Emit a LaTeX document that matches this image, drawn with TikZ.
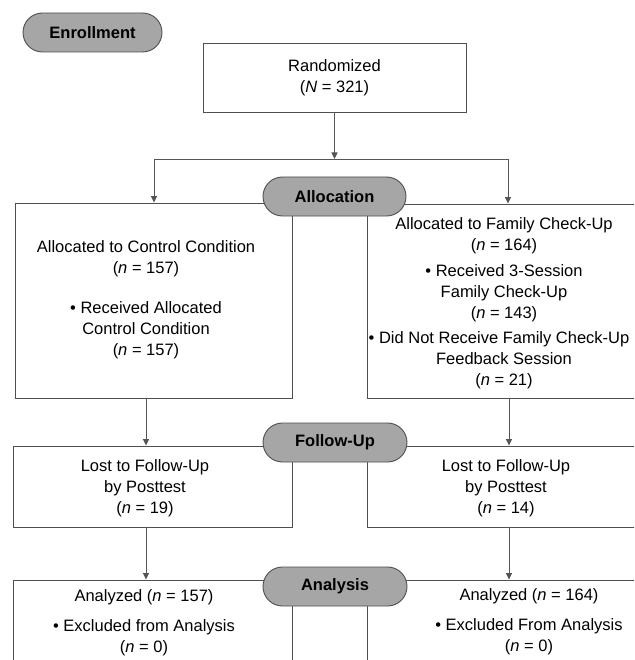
\documentclass[tikz,border=0pt]{standalone}
\usepackage{fontspec}
\setmainfont{Liberation Sans}
\usetikzlibrary{arrows.meta}
\definecolor{boxgray}{HTML}{4F4F4F}
\definecolor{pillgray}{HTML}{A6A6A6}
\definecolor{linegray}{HTML}{555555}
\begin{document}
\begin{tikzpicture}[x=1pt,y=-1pt,
  box/.style={draw=boxgray, line width=0.9pt, fill=white, rectangle, inner sep=0pt},
  pill/.style={draw=boxgray, line width=0.9pt, fill=pillgray, rounded corners=19.5pt, minimum width=143pt, minimum height=39pt, inner sep=0pt, font=\fontsize{16.5}{20}\selectfont\bfseries},
  txt/.style={align=center, inner sep=0pt, font=\fontsize{16.5}{21}\selectfont},
  conn/.style={draw=linegray, line width=0.9pt},
  arr/.style={conn, -{Triangle[width=6pt,length=6.5pt]}}]
\useasboundingbox (0,0) rectangle (634,660);
\clip (0,0) rectangle (634,660);
\fill[white] (0,0) rectangle (634,660);
% boxes
\node[box, minimum width=263pt, minimum height=69pt] (rand) at (334.5,77.5) {};
\node[box, minimum width=277pt, minimum height=195pt] (acl) at (153.5,300.5) {};
\node[box, minimum width=293pt, minimum height=194pt] (acr) at (513.5,301) {};
\node[box, minimum width=279pt, minimum height=81pt] (ful) at (152.5,486.5) {};
\node[box, minimum width=293pt, minimum height=81pt] (fur) at (513.5,486.5) {};
\node[box, minimum width=279pt, minimum height=140pt] (anl) at (152.5,650) {};
\node[box, minimum width=293pt, minimum height=140pt] (anr) at (513.5,650) {};
% texts
\node[txt] (trand) at (334.5,77.5) {Randomized\\(\textit{N} = 321)};
\node[txt] (tacl) at (146,299.5) {Allocated to Control Condition\\(\textit{n} = 157)\\[19pt]%
  • Received Allocated\\Control Condition\\(\textit{n} = 157)};
\node[txt] (tacr) at (504,303) {Allocated to Family Check-Up\\(\textit{n} = 164)\\[5pt]%
  • Received 3-Session\\Family Check-Up\\(\textit{n} = 143)\\[4pt]%
  • Did Not Receive Family Check-Up\kern10pt\\Feedback Session\\(\textit{n} = 21)};
\node[txt] (tful) at (145,488.5) {Lost to Follow-Up\\by Posttest\\(\textit{n} = 19)};
\node[txt] (tfur) at (506,488.5) {Lost to Follow-Up\\by Posttest\\(\textit{n} = 14)};
\node[txt] (tanl) at (144,622.5) {Analyzed (\textit{n} = 157)\\[9pt]• Excluded from Analysis\\(\textit{n} = 0)};
\node[txt] (tanr) at (529,622) {Analyzed (\textit{n} = 164)\\[9pt]• Excluded From Analysis\\(\textit{n} = 0)};
% connectors
\coordinate (split) at (334.5,159);
\coordinate (sl) at (154,159);
\coordinate (sr) at (508,159);
\coordinate (lx) at (146,0);
\coordinate (rx) at (509,0);
\draw[arr] (rand.south) -- (split);
\draw[conn] (sl) -- (sr);
\draw[arr] (sl) -- (sl |- acl.north);
\draw[arr] (sr) -- (sr |- acr.north);
\draw[arr] (acl.south -| lx) -- (ful.north -| lx);
\draw[arr] (acr.south -| rx) -- (fur.north -| rx);
\draw[arr] (ful.south -| lx) -- (anl.north -| lx);
\draw[arr] (fur.south -| rx) -- (anr.north -| rx);
% pills
\node[pill, minimum width=139pt] (enr) at (92.5,32.5) {Enrollment};
\node[pill] (alloc) at (334.5,196.5) {Allocation};
\node[pill, minimum width=144pt] (fu) at (335,442.5) {Follow-Up};
\node[pill, minimum width=144pt] (ana) at (335,586.5) {Analysis};
\end{tikzpicture}
\end{document}
